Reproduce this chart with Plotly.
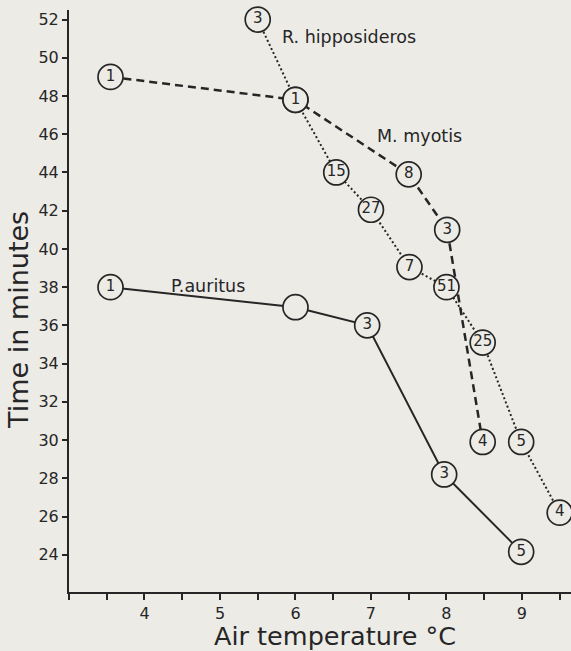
import plotly.graph_objects as go

# Data
temp_auritus = [3.55, 6.0, 6.95, 7.97, 8.99]
time_auritus = [38.0, 36.95, 36.0, 28.2, 24.15]
n_auritus = ["1", "", "3", "3", "5"]

temp_myotis = [3.55, 6.0, 7.5, 8.01, 8.48]
time_myotis = [49.0, 47.8, 43.9, 41.0, 29.9]
n_myotis = ["1", "1", "8", "3", "4"]

temp_hippo = [5.5, 6.0, 6.54, 7.0, 7.51, 8.0, 8.48, 8.99, 9.5]
time_hippo = [52.0, 47.8, 44.0, 42.05, 39.05, 38.0, 35.1, 29.9, 26.2]
n_hippo = ["3", "1", "15", "27", "7", "51", "25", "5", "4"]

x_ticks = [4, 5, 6, 7, 8, 9]
y_ticks = [24, 26, 28, 30, 32, 34, 36, 38, 40, 42, 44, 46, 48, 50, 52]

BG = "#ecebe6"
INK = "#262626"
FONT = "DejaVu Sans"

fig = go.Figure()


def add_series(x, y, labels, dash, width):
    fig.add_trace(go.Scatter(
        x=x, y=y, text=labels,
        mode="lines+markers+text",
        textposition="middle center",
        textfont=dict(family=FONT, size=15, color=INK),
        line=dict(color=INK, width=width, dash=dash),
        marker=dict(size=25, color=BG, line=dict(color=INK, width=1.7)),
        cliponaxis=False,
        showlegend=False,
        hoverinfo="skip",
    ))


add_series(temp_auritus, time_auritus, n_auritus, "solid", 2)
add_series(temp_myotis, time_myotis, n_myotis, "8px,5px", 2.5)
add_series(temp_hippo, time_hippo, n_hippo, "2px,2.5px", 2)

ann_font = dict(family=FONT, size=17.5, color=INK)
fig.add_annotation(x=5.79, y=51.1, text="R. hipposideros", showarrow=False,
                   xanchor="left", yanchor="middle", font=ann_font)
fig.add_annotation(x=7.05, y=45.9, text="M. myotis", showarrow=False,
                   xanchor="left", yanchor="middle", font=ann_font)
fig.add_annotation(x=4.33, y=38.05, text="P.auritus", showarrow=False,
                   xanchor="left", yanchor="middle", font=ann_font)

# axis titles
fig.add_annotation(xref="paper", yref="paper", x=(335 - 69) / 502, y=(592 - 635.5) / 582,
                   text="Air temperature °C", showarrow=False,
                   xanchor="center", yanchor="middle",
                   font=dict(family=FONT, size=25.5, color=INK))
fig.add_annotation(xref="paper", yref="paper", x=(18 - 69) / 502, y=(592 - 320) / 582,
                   text="Time in minutes", showarrow=False, textangle=-90,
                   xanchor="center", yanchor="middle",
                   font=dict(family=FONT, size=27, color=INK))

fig.update_layout(
    width=571, height=651,
    margin=dict(l=69, r=0, t=10, b=59, autoexpand=False),
    paper_bgcolor=BG, plot_bgcolor=BG,
    font=dict(family=FONT, color=INK),
)
fig.update_xaxes(
    range=[3.0, 9.65], showgrid=False, zeroline=False, automargin=False,
    showline=True, linecolor=INK, linewidth=2,
    tickmode="array", tickvals=x_ticks, ticktext=[str(v) for v in x_ticks],
    ticks="outside", ticklen=6, tickwidth=1.5, tickcolor=INK,
    tickfont=dict(family=FONT, size=16, color=INK),
    minor=dict(dtick=0.5, tick0=0, ticks="outside", ticklen=6, tickwidth=1.5, tickcolor=INK, showgrid=False),
)
fig.update_yaxes(
    range=[22.05, 52.5], showgrid=False, zeroline=False, automargin=False,
    showline=True, linecolor=INK, linewidth=2,
    tickmode="array", tickvals=y_ticks, ticktext=[str(v) for v in y_ticks],
    ticks="outside", ticklen=5, tickwidth=1.5, tickcolor=INK,
    tickfont=dict(family=FONT, size=16, color=INK),
)

fig.write_html(
    "out.html",
    config={"displayModeBar": False},
    post_script="document.body.style.margin='0';document.body.style.overflow='hidden';"
                "document.body.style.background='" + BG + "';",
)
